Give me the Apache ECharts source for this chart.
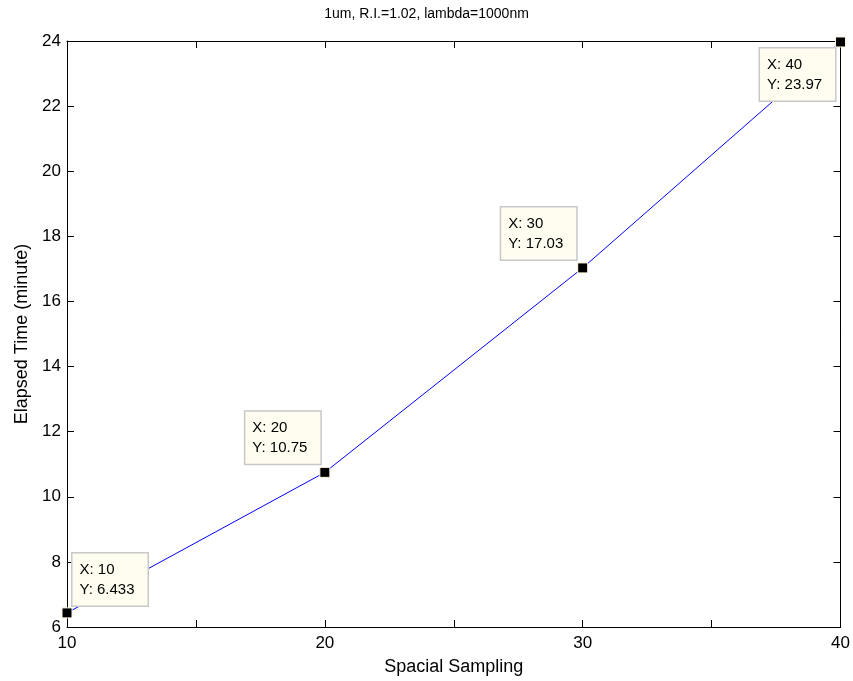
<!DOCTYPE html>
<html>
<head>
<meta charset="utf-8">
<script src="https://cdn.jsdelivr.net/npm/echarts@6/dist/echarts.min.js"></script>
<style>html,body{margin:0;padding:0;background:#fff;}#c{width:853px;height:681px;}</style>
</head>
<body>
<div id="c"></div>
<script>
const titleText = '1um, R.I.=1.02, lambda=1000nm';
const xName = 'Spacial Sampling';
const yName = 'Elapsed Time (minute)';
const samplingValues = [10, 20, 30, 40];
const elapsedValues = [6.433, 10.75, 17.03, 23.97];
const tipLabels = ['6.433', '10.75', '17.03', '23.97'];

const tipPos = [[11, -54], [-74, -55], [-76, -55], [-75, 12]];
const font = 'Arial, "Liberation Sans", Helvetica, sans-serif';

const chart = echarts.init(document.getElementById('c'), null, {renderer: 'canvas'});
const seriesData = samplingValues.map((x, i) => ({
  value: [x, elapsedValues[i]],
  label: {
    show: true,
    position: tipPos[i],
    align: 'left',
    verticalAlign: 'top',
    formatter: 'X: ' + x + '\nY: ' + tipLabels[i],
    backgroundColor: '#fffcf0',
    borderColor: '#c8c8c8',
    borderWidth: 1.5,
    padding: [6, 7],
    width: 61,
    lineHeight: 20,
    fontSize: 15,
    fontFamily: font,
    color: '#000'
  }
}));

const axisCommon = {
  axisLine: {show: true, onZero: false, lineStyle: {color: '#000', width: 1}},
  axisTick: {show: true, inside: true, length: 7, lineStyle: {color: '#000'}},
  splitLine: {show: false},
  axisLabel: {color: '#000', fontSize: 17, fontFamily: font}
};

chart.setOption({
  animation: false,
  backgroundColor: '#fff',
  title: {
    text: titleText, left: 'center', top: 2,
    textStyle: {fontSize: 14, fontWeight: 'normal', color: '#000', fontFamily: font}
  },
  grid: {left: 67, right: 11, top: 41, bottom: 53, containLabel: false},
  xAxis: [
    Object.assign({}, axisCommon, {
      type: 'value', min: 10, max: 40, interval: 5,
      name: xName, nameLocation: 'middle', nameGap: 31,
      nameTextStyle: {fontSize: 18, color: '#000', fontFamily: font},
      axisLabel: Object.assign({}, axisCommon.axisLabel, {
        margin: 8,
        formatter: v => (v % 10 === 0 ? String(v) : '')
      })
    }),
    Object.assign({}, axisCommon, {
      type: 'value', min: 10, max: 40, interval: 5, position: 'top',
      axisLabel: {show: false}
    })
  ],
  yAxis: [
    Object.assign({}, axisCommon, {
      type: 'value', min: 6, max: 24, interval: 2,
      name: yName, nameLocation: 'middle', nameGap: 35,
      nameTextStyle: {fontSize: 18, color: '#000', fontFamily: font},
      axisLabel: Object.assign({}, axisCommon.axisLabel, {margin: 6})
    }),
    Object.assign({}, axisCommon, {
      type: 'value', min: 6, max: 24, interval: 2, position: 'right',
      axisLabel: {show: false}
    })
  ],
  series: [{
    type: 'line',
    data: seriesData,
    xAxisIndex: 0, yAxisIndex: 0,
    symbol: 'rect', symbolSize: 10,
    itemStyle: {color: '#000', borderColor: '#fff8e0', borderWidth: 1},
    lineStyle: {color: '#0000ff', width: 1},
    z: 3
  }]
});
</script>
</body>
</html>
